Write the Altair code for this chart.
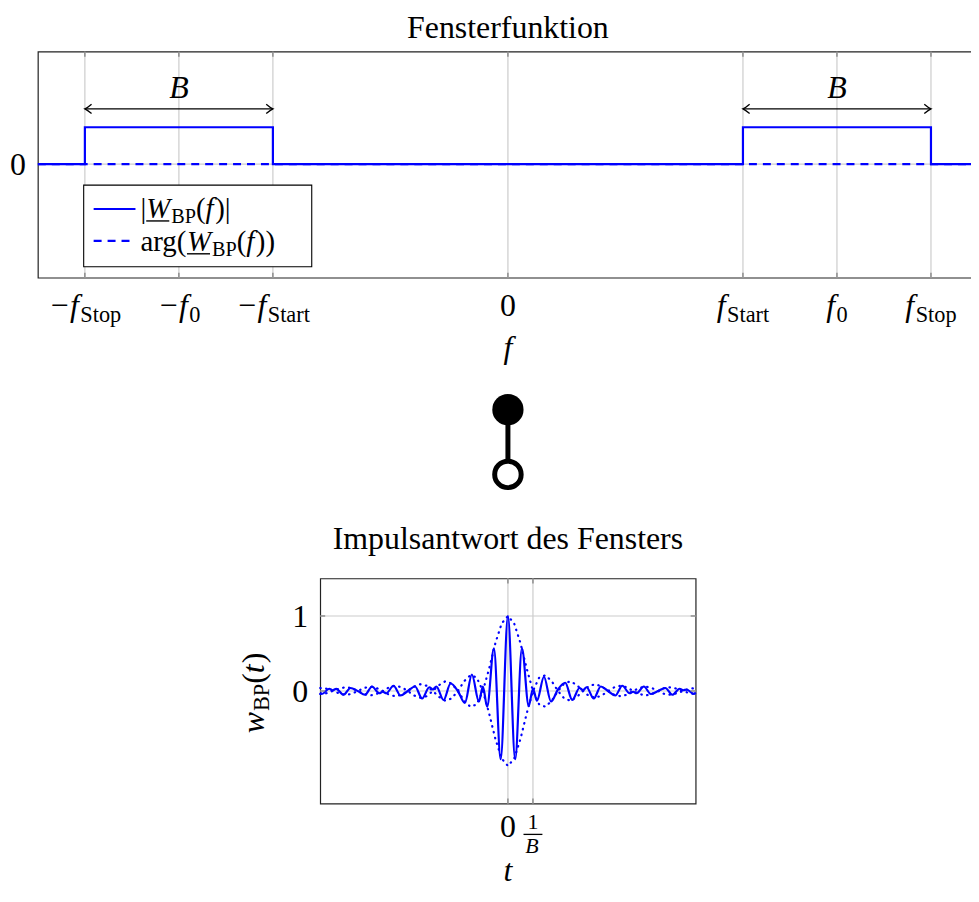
import altair as alt
import pandas as pd

SERIF = "Liberation Serif"
BLUE = "#0000ff"
GRID = "#cccccc"
FS = 32
SUB = 22.4
LFS = 29
LSUB = 20.3

# ---------------- top panel data ----------------
f_ticks = [-4.5, -3.5, -2.5, 0.0, 2.5, 3.5, 4.5]
f_tick_main = ["−f", "−f", "−f", "0", "f", "f", "f"]
f_tick_sub = ["Stop", "0", "Start", "", "Start", "0", "Stop"]
y_ticks_top = [0.0]
y_tick_labels_top = ["0"]
mag_f = [-5.0, -4.5, -4.5, -2.5, -2.5, 2.5, 2.5, 4.5, 4.5, 5.0]
mag_v = [0, 0, 1, 1, 0, 0, 1, 1, 0, 0]
arg_f = [-5.0, 5.0]
arg_v = [0.0, 0.0]
band_start = [-4.5, 2.5]
band_stop = [-2.5, 4.5]
band_center = [-3.5, 3.5]
arrow_level = [1.5, 1.5]
label_level = [1.8, 1.8]

# ---------------- bottom panel data ----------------
t_vals = [-7.5, -7.43, -7.14, -7.0, -6.86, -6.57, -6.29, -6.0, -5.71, -5.43, -5.14, -5.0,
          -4.86, -4.57, -4.29, -4.0, -3.71, -3.43, -3.14, -3.0, -2.86, -2.57, -2.29, -2.0,
          -1.72, -1.44, -1.16, -1.0, -0.83, -0.56, -0.29, 0.0, 0.29, 0.56, 0.83, 1.0,
          1.16, 1.44, 1.72, 2.0, 2.29, 2.57, 2.86, 3.0, 3.14, 3.43, 3.71, 4.0,
          4.29, 4.57, 4.86, 5.0, 5.14, 5.43, 5.71, 6.0, 6.29, 6.57, 6.86, 7.0,
          7.14, 7.43, 7.5]
w_vals = [-0.02, -0.04, 0.03, 0.01, 0.03, -0.05, 0.04, 0.0, -0.05, 0.06, -0.03, -0.01,
          -0.03, 0.07, -0.06, 0.0, 0.06, -0.10, 0.05, 0.02, 0.06, -0.12, 0.10, 0.0,
          -0.16, 0.22, -0.14, 0.06, -0.21, 0.57, -0.91, 1.0, -0.91, 0.57, -0.20, 0.03,
          -0.13, 0.19, -0.14, 0.02, 0.11, -0.12, 0.04, 0.01, 0.05, -0.10, 0.06, 0.0,
          -0.06, 0.07, -0.03, -0.01, -0.03, 0.06, -0.04, 0.0, 0.04, -0.05, 0.03, 0.01,
          0.02, -0.04, -0.02]
env_t = [-7.5, -7.25, -7.0, -6.75, -6.5, -6.25, -6.0, -5.75, -5.5, -5.25, -5.0,
         -4.75, -4.5, -4.25, -4.0, -3.75, -3.5, -3.25, -3.0, -2.75, -2.5, -2.25, -2.0,
         -1.75, -1.5, -1.25, -1.0, -0.75, -0.5, -0.25, 0.0, 0.25, 0.5, 0.75, 1.0,
         1.25, 1.5, 1.75, 2.0, 2.25, 2.5, 2.75, 3.0, 3.25, 3.5, 3.75, 4.0, 4.25, 4.5,
         4.75, 5.0, 5.25, 5.5, 5.75, 6.0, 6.25, 6.5, 6.75, 7.0, 7.25, 7.5]
env_up = [0.04, 0.03, 0.0, 0.03, 0.05, 0.04, 0.0, 0.04, 0.06, 0.04, 0.0,
          0.05, 0.07, 0.05, 0.0, 0.06, 0.09, 0.07, 0.0, 0.08, 0.13, 0.10, 0.0,
          0.13, 0.21, 0.18, 0.0, 0.30, 0.64, 0.90, 1.0, 0.90, 0.64, 0.30, 0.0,
          0.18, 0.21, 0.13, 0.0, 0.10, 0.13, 0.08, 0.0, 0.07, 0.09, 0.06, 0.0, 0.05, 0.07,
          0.05, 0.0, 0.04, 0.06, 0.04, 0.0, 0.04, 0.05, 0.03, 0.0, 0.03, 0.04]
env_lo = [-0.04, -0.03, 0.0, -0.03, -0.05, -0.04, 0.0, -0.04, -0.06, -0.04, 0.0,
          -0.05, -0.07, -0.05, 0.0, -0.06, -0.09, -0.07, 0.0, -0.08, -0.13, -0.10, 0.0,
          -0.13, -0.21, -0.18, 0.0, -0.30, -0.64, -0.90, -1.0, -0.90, -0.64, -0.30, 0.0,
          -0.18, -0.21, -0.13, 0.0, -0.10, -0.13, -0.08, 0.0, -0.07, -0.09, -0.06, 0.0, -0.05, -0.07,
          -0.05, 0.0, -0.04, -0.06, -0.04, 0.0, -0.04, -0.05, -0.03, 0.0, -0.03, -0.04]
t_ticks = [0.0, 1.0]
w_ticks = [0.0, 1.0]
w_tick_labels = ["0", "1"]

# ---------------- text helpers ----------------
REG = {'|': 0.2, '(': 0.333, ')': 0.333, '0': 0.5, '1': 0.5, 'B': 0.667, 'P': 0.556,
       'S': 0.556, 'a': 0.444, 'g': 0.5, 'r': 0.333, 't': 0.278, 'o': 0.5, 'p': 0.5, '−': 0.564}
ITA = {'f': 0.278, 'W': 0.833, 't': 0.278, 'w': 0.667, 'B': 0.611, '−': 0.675}


def tw(s, italic, size):
    tab = ITA if italic else REG
    return sum(tab.get(c, 0.5) for c in s) * size


ONE = pd.DataFrame({"k": [0]})


def label(df, x, y, text, size=FS, italic=False, align="left", dx=0.0, dy=0.0, angle=0):
    return alt.Chart(df).mark_text(
        text=text, font=SERIF, fontSize=size,
        fontStyle="italic" if italic else "normal", align=align, baseline="alphabetic",
        dx=dx, dy=dy, angle=angle, color="black").encode(x=x, y=y)


def run(df, x, y, segs, start=0.0, angle=0):
    out, spans, pos = [], [], start
    for text, italic, size, dy, gap in segs:
        out.append(label(df, x, y, text, size, italic, "left", pos, dy, angle))
        w = tw(text, italic, size)
        spans.append((pos, pos + w))
        pos += w + gap
    return out, spans


# ---------------- top panel ----------------
TW, TH = 944, 227
TOPX = alt.Scale(domain=[-5, 5], nice=False, zero=False)
TOPY = alt.Scale(domain=[-3.08, 3.05], nice=False, zero=False)
tx = alt.X("x:Q", scale=TOPX, axis=None)
ty = alt.Y("y:Q", scale=TOPY, axis=None)

mag_df = pd.DataFrame({"x": mag_f, "y": mag_v, "i": list(range(len(mag_f)))})
arg_df = pd.DataFrame({"x": arg_f, "y": arg_v})
band_df = pd.DataFrame({"x1": band_start, "x2": band_stop, "xc": band_center,
                        "y": arrow_level, "yl": label_level})
tick_df = pd.DataFrame({"x": f_ticks})
ytick_df = pd.DataFrame({"y": y_ticks_top, "lab": y_tick_labels_top})

top_layers = []
# grid
top_layers.append(alt.Chart(tick_df).mark_rule(color=GRID, strokeWidth=1.2).encode(x=tx))
top_layers.append(alt.Chart(ytick_df).mark_rule(color=GRID, strokeWidth=1.2).encode(y=ty))
# y tick label
top_layers.append(alt.Chart(ytick_df).mark_text(
    font=SERIF, fontSize=FS, align="right", baseline="alphabetic", dy=11, color="black").encode(
    x=alt.value(-12), y=ty, text="lab:N"))
# data
top_layers.append(
    alt.Chart(mag_df).mark_line(color=BLUE, strokeWidth=2.2).encode(
        x=tx, y=ty, order=alt.Order("i:Q")))
top_layers.append(
    alt.Chart(arg_df).mark_line(color=BLUE, strokeWidth=2.2, strokeDash=[8, 6]).encode(x=tx, y=ty))
# inner tick marks
for yy in [2.5, TH - 2.5]:
    top_layers.append(alt.Chart(tick_df).mark_point(
        shape="M0,-1L0,1", size=25, filled=False, color="#808080", strokeWidth=1.3,
        opacity=1).encode(x=tx, y=alt.value(yy)))
# bandwidth arrows
top_layers.append(alt.Chart(band_df).mark_rule(color="black", strokeWidth=1.3).encode(
    x=alt.X("x1:Q", scale=TOPX, axis=None), x2="x2:Q", y=alt.Y("y:Q", scale=TOPY, axis=None)))
top_layers.append(alt.Chart(band_df).mark_point(
    shape="M1,-0.7Q0.35,-0.15,0,0Q0.35,0.15,1,0.7", size=180, filled=False, color="black",
    strokeWidth=1.3, opacity=1).encode(x=alt.X("x1:Q", scale=TOPX, axis=None),
                                        y=alt.Y("y:Q", scale=TOPY, axis=None)))
top_layers.append(alt.Chart(band_df).mark_point(
    shape="M-1,-0.7Q-0.35,-0.15,0,0Q-0.35,0.15,-1,0.7", size=180, filled=False, color="black",
    strokeWidth=1.3, opacity=1).encode(x=alt.X("x2:Q", scale=TOPX, axis=None),
                                        y=alt.Y("y:Q", scale=TOPY, axis=None)))
top_layers.append(alt.Chart(band_df).mark_text(
    text="B", font=SERIF, fontSize=FS, fontStyle="italic", align="center",
    baseline="alphabetic", color="black").encode(
    x=alt.X("xc:Q", scale=TOPX, axis=None), y=alt.Y("yl:Q", scale=TOPY, axis=None)))

# legend
top_layers.append(alt.Chart(ONE).mark_rect(fill="white", stroke="black", strokeWidth=1.1).encode(
    x=alt.value(46), x2=alt.value(275), y=alt.value(134), y2=alt.value(216)))
top_layers.append(alt.Chart(ONE).mark_rule(color=BLUE, strokeWidth=2.2).encode(
    x=alt.value(56), x2=alt.value(98), y=alt.value(158)))
top_layers.append(alt.Chart(ONE).mark_rule(color=BLUE, strokeWidth=2.2, strokeDash=[8, 6]).encode(
    x=alt.value(56), x2=alt.value(98), y=alt.value(190)))
LX = 103
row1 = [("|", False, LFS, 0, 0), ("W", True, LFS, 0, 1), ("BP", False, LSUB, 5, 0),
        ("(", False, LFS, 0, 0), ("f", True, LFS, 0, 1.5), (")|", False, LFS, 0, 0)]
row2 = [("arg(", False, LFS, 0, 0), ("W", True, LFS, 0, 1), ("BP", False, LSUB, 5, 0),
        ("(", False, LFS, 0, 0), ("f", True, LFS, 0, 1.5), ("))", False, LFS, 0, 0)]
for segs, base in [(row1, 167), (row2, 200)]:
    lay, spans = run(ONE, alt.value(LX), alt.value(base), segs)
    top_layers.extend(lay)
    a, b = spans[1]
    top_layers.append(alt.Chart(ONE).mark_rule(color="black", strokeWidth=1.4).encode(
        x=alt.value(LX + a), x2=alt.value(LX + b - 1), y=alt.value(base + 3)))

# x tick labels
for v, main, sub in zip(f_ticks, f_tick_main, f_tick_sub):
    df = pd.DataFrame({"x": [v]})
    if sub == "":
        top_layers.append(label(df, tx, alt.value(TH + 38), main, align="center"))
        continue
    gap = 1.5
    mw = tw(main, True, FS)
    sw = tw(sub, False, SUB)
    total = mw + gap + sw
    s0 = -total / 2 + mw + gap
    top_layers.append(label(df, tx, alt.value(TH + 38), main, italic=True, align="right", dx=s0 - gap))
    top_layers.append(label(df, tx, alt.value(TH + 38), sub, size=SUB, align="left", dx=s0, dy=6))

top_layers.append(label(ONE, alt.value(TW / 2), alt.value(-14), "Fensterfunktion", align="center"))
top_layers.append(label(ONE, alt.value(TW / 2), alt.value(TH + 81), "f", italic=True, align="center"))

top = alt.layer(*top_layers).properties(width=TW, height=TH)

# ---------------- middle symbol ----------------
MH = 282
sym_df = pd.DataFrame({"x": [0.0], "y1": [122.5], "y2": [187.5]})
MY = alt.Scale(domain=[0, MH], reverse=True, nice=False, zero=False)
mx = alt.X("x:Q", scale=TOPX, axis=None)
mid = alt.layer(
    alt.Chart(sym_df).mark_rule(color="black", strokeWidth=5).encode(
        x=mx, y=alt.Y("y1:Q", scale=MY, axis=None), y2="y2:Q"),
    alt.Chart(sym_df).mark_point(shape="circle", filled=True, color="black", size=985,
                                 opacity=1).encode(x=mx, y=alt.Y("y1:Q", scale=MY, axis=None)),
    alt.Chart(sym_df).mark_point(shape="circle", filled=True, fill="white", stroke="black",
                                 strokeWidth=5, size=707, opacity=1).encode(
        x=mx, y=alt.Y("y2:Q", scale=MY, axis=None)),
).properties(width=TW, height=MH, view=alt.ViewBackground(stroke="transparent"))

# ---------------- bottom panel ----------------
BW, BH = 377, 226
BX = alt.Scale(domain=[-7.5, 7.5], nice=False, zero=False)
BY = alt.Scale(domain=[-1.5, 1.5], nice=False, zero=False)
bx = alt.X("t:Q", scale=BX, axis=None)
by = alt.Y("w:Q", scale=BY, axis=None)

w_df = pd.DataFrame({"t": t_vals, "w": w_vals})
eu_df = pd.DataFrame({"t": env_t, "w": env_up})
el_df = pd.DataFrame({"t": env_t, "w": env_lo})
tt_df = pd.DataFrame({"t": t_ticks})
wt_df = pd.DataFrame({"w": w_ticks, "lab": w_tick_labels})

bot_layers = []
bot_layers.append(alt.Chart(tt_df).mark_rule(color=GRID, strokeWidth=1.2).encode(x=bx))
bot_layers.append(alt.Chart(wt_df).mark_rule(color=GRID, strokeWidth=1.2).encode(y=by))
bot_layers.append(alt.Chart(wt_df).mark_text(
    font=SERIF, fontSize=FS, align="right", baseline="alphabetic", dy=11, color="black").encode(
    x=alt.value(-12), y=by, text="lab:N"))
bot_layers.append(alt.Chart(w_df).mark_line(color=BLUE, strokeWidth=2.2, interpolate="monotone").encode(
    x=bx, y=by))
for df in [eu_df, el_df]:
    bot_layers.append(alt.Chart(df).mark_line(color=BLUE, strokeWidth=2.2, strokeDash=[0.5, 5.5],
                                              strokeCap="round").encode(x=bx, y=by))
for yy in [2.5, BH - 2.5]:
    bot_layers.append(alt.Chart(tt_df).mark_point(
        shape="M0,-1L0,1", size=25, filled=False, color="#808080", strokeWidth=1.3,
        opacity=1).encode(x=bx, y=alt.value(yy)))
for xx in [2.5, BW - 2.5]:
    bot_layers.append(alt.Chart(wt_df).mark_point(
        shape="M-1,0L1,0", size=25, filled=False, color="#808080", strokeWidth=1.3,
        opacity=1).encode(x=alt.value(xx), y=by))

zero_df = pd.DataFrame({"t": [0.0]})
inv_df = pd.DataFrame({"t": [1.0]})
bot_layers.append(label(zero_df, bx, alt.value(260), "0", align="center"))
bot_layers.append(label(inv_df, bx, alt.value(252), "1", size=22, align="center"))
bot_layers.append(label(inv_df, bx, alt.value(276), "B", size=22, italic=True, align="center", dx=-1))
bot_layers.append(alt.Chart(inv_df).mark_point(
    shape="M-1,0L1,0", size=361, filled=False, color="black", strokeWidth=1.3,
    opacity=1).encode(x=bx, y=alt.value(257)))
bot_layers.append(label(zero_df, bx, alt.value(304), "t", italic=True, align="center"))
bot_layers.append(label(ONE, alt.value(BW / 2), alt.value(-30), "Impulsantwort des Fensters",
                        align="center"))
ysegs = [("w", True, FS, 0, 1), ("BP", False, SUB, 5, 0), ("(", False, FS, 0, 0),
         ("t", True, FS, 0, 1), (")", False, FS, 0, 0)]
ylen = sum(tw(s, i, z) + g for s, i, z, _, g in ysegs)
ylay, _ = run(ONE, alt.value(-56), alt.value(115 + ylen / 2), ysegs, angle=270)
bot_layers.extend(ylay)

bot = alt.layer(*bot_layers).properties(width=BW, height=BH)

chart = alt.vconcat(top, mid, bot, spacing=10, center=True, bounds="flush").properties(
    padding={"left": 1, "top": 1, "right": -12, "bottom": 0}
).configure_view(stroke="#222222", strokeWidth=1.2)

chart.save("out.html", embed_options={"renderer": "svg", "actions": False})
